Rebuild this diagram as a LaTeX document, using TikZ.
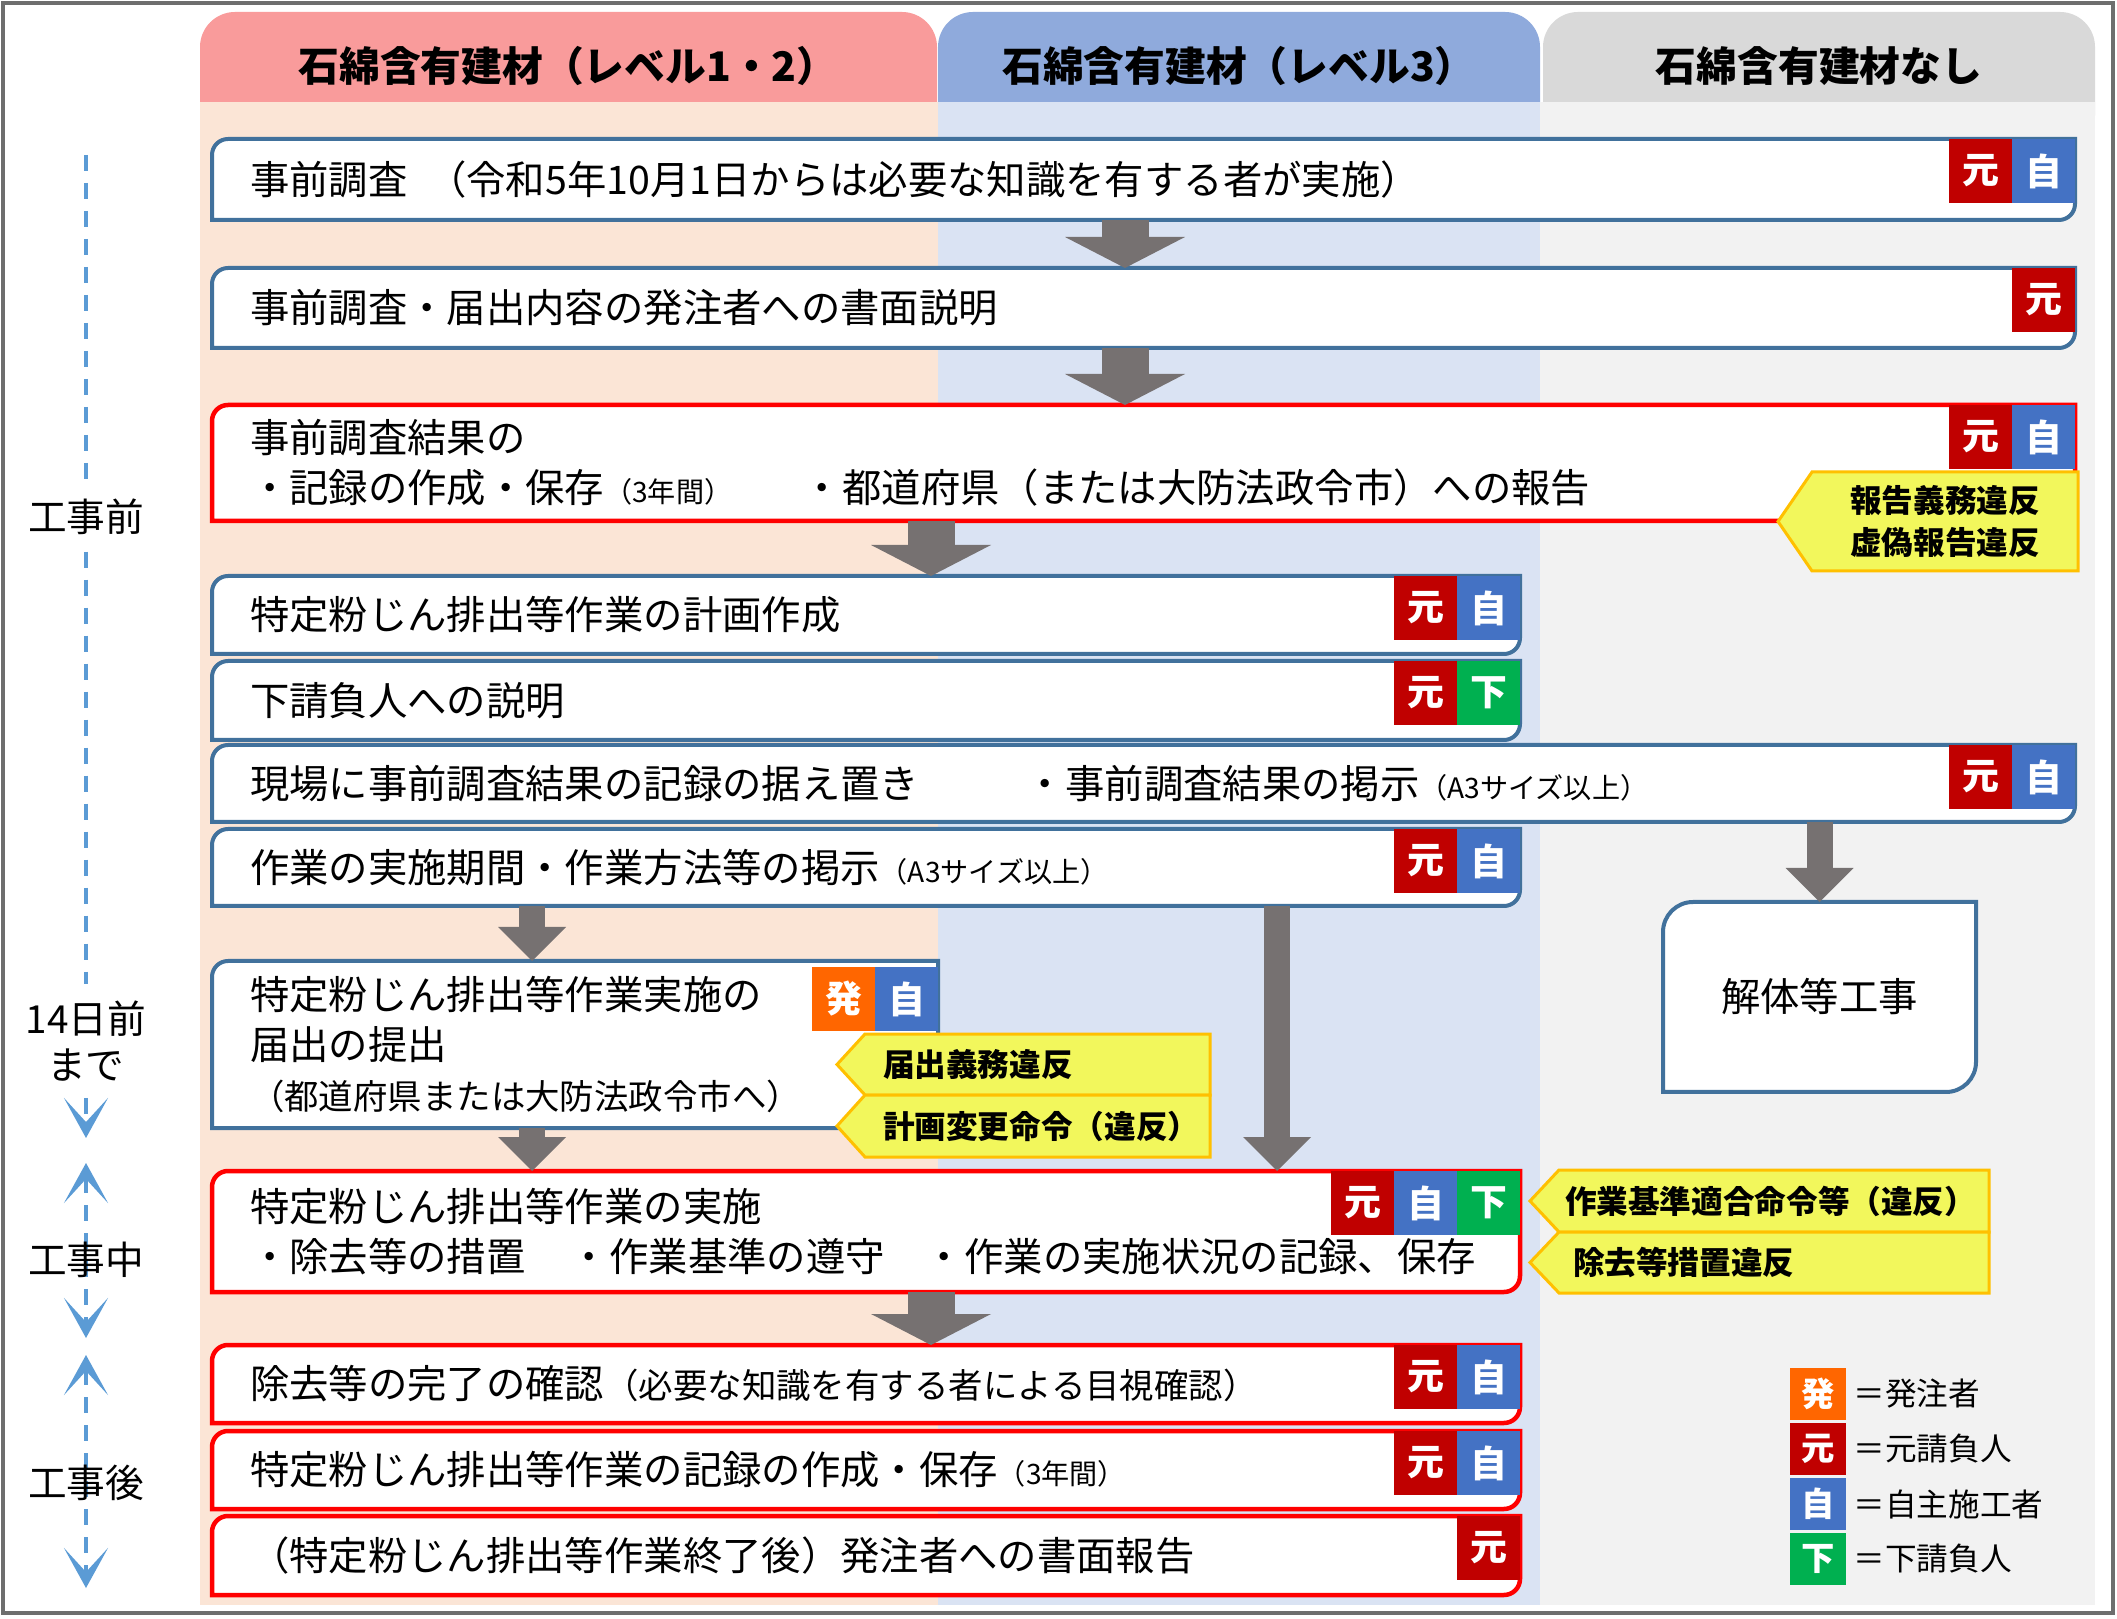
\documentclass[tikz,border=0pt]{standalone}
\usepackage{fontspec}
\setmainfont{Noto Sans CJK JP}
\usetikzlibrary{arrows.meta,positioning}

\definecolor{hdpink}{HTML}{F99B9B}
\definecolor{bgpink}{HTML}{FBE5D6}
\definecolor{hdblue}{HTML}{8FAADC}
\definecolor{bgblue}{HTML}{DAE3F3}
\definecolor{hdgray}{HTML}{D9D9D9}
\definecolor{bggray}{HTML}{F2F2F2}
\definecolor{boxblue}{HTML}{41719C}
\definecolor{boxred}{HTML}{FF0000}
\definecolor{cmoto}{HTML}{C00000}
\definecolor{cji}{HTML}{4472C4}
\definecolor{cshita}{HTML}{00B050}
\definecolor{chatsu}{HTML}{FF6600}
\definecolor{warnfill}{HTML}{F2F75C}
\definecolor{warnline}{HTML}{FFC000}
\definecolor{arrgray}{HTML}{767171}
\definecolor{tlblue}{HTML}{5B9BD5}
\definecolor{framegray}{HTML}{6E6E6E}

\pgfdeclarelayer{back}
\pgfdeclarelayer{mid}
\pgfsetlayers{back,mid,main}

\newcommand\bodyfont{\fontsize{11.2}{14.2}\selectfont}
\newcommand\midfont{\fontsize{9.8}{12}\selectfont}
\newcommand\subfont{\fontsize{8}{10}\selectfont}
\newcommand\headfont{\fontsize{11.6}{14}\selectfont\bfseries}
\newcommand\tagfont{\fontsize{10.5}{12}\selectfont\bfseries}
\newcommand\warnfont{\fontsize{9}{11.7}\selectfont\bfseries}
\newcommand\tlfont{\fontsize{11}{13}\selectfont}

% box with rounded top-left and bottom-right corners
\newcommand\rdbox[3][1.6mm]{%
  \draw[#3] (#2.south west) -- ([yshift=-#1]#2.north west)
    arc[start angle=180, end angle=90, radius=#1] -- (#2.north east)
    -- ([yshift=#1]#2.south east)
    arc[start angle=0, end angle=-90, radius=#1] -- cycle;}

% warning tag pointing left
\newcommand\warnflag[2]{%
  \draw[warn] (#1.north east) -- (#1.north west) -- ([xshift=-#2]#1.west)
    -- (#1.south west) -- (#1.south east) -- cycle;}

\begin{document}
\begin{tikzpicture}[x=0.1mm, y=0.1mm,
  box/.style={anchor=north west, inner xsep=3.8mm, inner ysep=0pt, outer sep=0pt, align=left, font=\bodyfont},
  widebox/.style={box, text width=178.7mm},
  midbox/.style={box, text width=123.2mm},
  shortbox/.style={box, text width=65mm},
  blueline/.style={fill=white, draw=boxblue, line width=0.4mm},
  redline/.style={fill=white, draw=boxred, line width=0.45mm},
  tag/.style={minimum width=6.3mm, minimum height=6.4mm, inner sep=0pt, outer sep=0pt, text=white, font=\tagfont},
  moto/.style={tag, fill=cmoto},
  ji/.style={tag, fill=cji},
  shita/.style={tag, fill=cshita},
  hatsu/.style={tag, fill=chatsu},
  legtag/.style={minimum width=5.6mm, minimum height=5.2mm, font=\fontsize{9.5}{11}\selectfont\bfseries},
  legtext/.style={inner sep=0pt, font=\fontsize{9}{11}\selectfont},
  headtext/.style={font=\headfont},
  warn/.style={fill=warnfill, draw=warnline, line width=0.3mm, line join=miter},
  warntext/.style={anchor=north west, outer sep=0pt, inner ysep=0pt, font=\warnfont},
  bigarrow/.style={draw=arrgray, line width=4.7mm, -{Triangle[length=3.1mm, width=12mm, line width=0pt]}},
  thinarrow/.style={draw=arrgray, line width=2.6mm, -{Triangle[length=3.4mm, width=6.8mm, line width=0pt]}},
  tline/.style={draw=tlblue, line width=0.4mm, dash pattern=on 1.6mm off 1.2mm},
  tltext/.style={font=\tlfont, inner xsep=0pt, inner ysep=1.6mm}]
\useasboundingbox (0,0) rectangle (2117,-1619);

% columns
\begin{pgfonlayer}{back}
\fill[hdpink, rounded corners=3.5mm] (200,-12) rectangle (937,-150);
\fill[hdblue, rounded corners=3.5mm] (938,-12) rectangle (1540,-150);
\fill[hdgray, rounded corners=3.5mm] (1543,-12) rectangle (2095,-150);
\fill[bgpink] (200,-102) rectangle (938,-1605);
\fill[bgblue] (938,-102) rectangle (1540,-1605);
\fill[bggray] (1540,-102) rectangle (2095,-1605);
\end{pgfonlayer}
\node[headtext] (hA) at (568,-66) {石綿含有建材（レベル1・2）};
\node[headtext] (hB) at (1239,-66) {石綿含有建材（レベル3）};
\node[headtext] (hC) at (1819,-66) {石綿含有建材なし};

% steps
\node[widebox, minimum height=8.1mm] (b1) at (212,-139) {事前調査\enspace（令和5年10月1日からは必要な知識を有する者が実施）};
\node[widebox, minimum height=8mm] (b2) at (212,-268) {事前調査・届出内容の発注者への書面説明};
\node[widebox, minimum height=11.6mm] (b3) at (212,-405) {事前調査結果の\\\makebox[55.3mm][l]{・記録の作成・保存{\subfont（3年間）}}・都道府県（または大防法政令市）への報告};
\node[midbox, minimum height=7.8mm] (b4) at (212,-576) {特定粉じん排出等作業の計画作成};
\node[midbox, minimum height=7.9mm] (b5) at (212,-661) {下請負人への説明};
\node[widebox, minimum height=7.7mm] (b6) at (212,-745) {\makebox[77.6mm][l]{現場に事前調査結果の記録の据え置き}・事前調査結果の掲示{\subfont（A3サイズ以上）}};
\node[midbox, minimum height=7.7mm] (b7) at (212,-829) {作業の実施期間・作業方法等の掲示{\subfont（A3サイズ以上）}};
\node[shortbox, minimum height=16.7mm] (b8) at (212,-961) {特定粉じん排出等作業実施の\\届出の提出\\{\midfont（都道府県または大防法政令市へ）}};
\node[box, align=center, inner xsep=0pt, minimum width=31.3mm, minimum height=19mm] (kai) at (1663,-902) {解体等工事};
\node[midbox, minimum height=12.1mm] (b9) at (212,-1171) {特定粉じん排出等作業の実施\\\makebox[32mm][l]{・除去等の措置}\makebox[35.5mm][l]{・作業基準の遵守}・作業の実施状況の記録、保存};
\node[midbox, minimum height=7.8mm] (b10) at (212,-1345) {除去等の完了の確認{\midfont（必要な知識を有する者による目視確認）}};
\node[midbox, minimum height=7.8mm] (b11) at (212,-1431) {特定粉じん排出等作業の記録の作成・保存{\subfont（3年間）}};
\node[midbox, minimum height=7.9mm] (b12) at (212,-1516) {（特定粉じん排出等作業終了後）発注者への書面報告};

% who is responsible
\node[ji, anchor=north east] (b1j) at (b1.north east) {自};
\node[moto, left=0pt of b1j] (b1m) {元};
\node[moto, anchor=north east] (b2m) at (b2.north east) {元};
\node[ji, anchor=north east] (b3j) at (b3.north east) {自};
\node[moto, left=0pt of b3j] (b3m) {元};
\node[ji, anchor=north east] (b4j) at (b4.north east) {自};
\node[moto, left=0pt of b4j] (b4m) {元};
\node[shita, anchor=north east] (b5s) at (b5.north east) {下};
\node[moto, left=0pt of b5s] (b5m) {元};
\node[ji, anchor=north east] (b6j) at (b6.north east) {自};
\node[moto, left=0pt of b6j] (b6m) {元};
\node[ji, anchor=north east] (b7j) at (b7.north east) {自};
\node[moto, left=0pt of b7j] (b7m) {元};
\node[ji, anchor=north east] (b8j) at ([yshift=-0.6mm]b8.north east) {自};
\node[hatsu, left=0pt of b8j] (b8h) {発};
\node[shita, anchor=north east] (b9s) at (b9.north east) {下};
\node[ji, left=0pt of b9s] (b9j) {自};
\node[moto, left=0pt of b9j] (b9m) {元};
\node[ji, anchor=north east] (b10j) at (b10.north east) {自};
\node[moto, left=0pt of b10j] (b10m) {元};
\node[ji, anchor=north east] (b11j) at (b11.north east) {自};
\node[moto, left=0pt of b11j] (b11m) {元};
\node[moto, anchor=north east] (b12m) at (b12.north east) {元};

% violations
\node[warntext, align=center, inner xsep=0pt, minimum width=26.6mm, minimum height=9.9mm] (w1) at (1812,-472) {報告義務違反\\虚偽報告違反};
\node[warntext, align=left, inner xsep=1.8mm, text width=30.9mm, minimum height=6.1mm] (w2) at (865,-1034) {届出義務違反};
\node[warntext, align=left, inner xsep=1.8mm, text width=30.9mm, minimum height=6.2mm] (w3) at (865,-1095) {計画変更命令（違反）};
\node[warntext, align=left, inner xsep=0.6mm, text width=41.8mm, minimum height=6.2mm] (w4) at (1559,-1170) {作業基準適合命令等（違反）};
\node[warntext, align=left, inner xsep=1.4mm, text width=40.2mm, minimum height=6.1mm] (w5) at (1559,-1232) {除去等措置違反};

\begin{pgfonlayer}{mid}
\rdbox{b1}{blueline}
\rdbox{b2}{blueline}
\rdbox{b3}{redline}
\rdbox{b4}{blueline}
\rdbox{b5}{blueline}
\rdbox{b6}{blueline}
\rdbox{b7}{blueline}
\rdbox{b8}{blueline}
\rdbox[3mm]{kai}{blueline}
\rdbox{b9}{redline}
\rdbox{b10}{redline}
\rdbox{b11}{redline}
\rdbox{b12}{redline}
\warnflag{w1}{3.4mm}
\warnflag{w2}{2.8mm}
\warnflag{w3}{2.8mm}
\warnflag{w4}{2.9mm}
\warnflag{w5}{2.9mm}
\end{pgfonlayer}

% flow
\coordinate (xa) at (532,0);
\coordinate (xb) at (931,0);
\coordinate (xc) at (1125,0);
\coordinate (xd) at (1277,0);
\draw[bigarrow] (b1.south -| xc) -- (b2.north -| xc);
\draw[bigarrow] (b2.south -| xc) -- (b3.north -| xc);
\draw[bigarrow] (b3.south -| xb) -- (b4.north -| xb);
\draw[thinarrow] (b6.south -| kai.north) -- (kai.north);
\draw[thinarrow] (b7.south -| xa) -- (b8.north -| xa);
\draw[thinarrow] (b7.south -| xd) -- (b9.north -| xd);
\draw[thinarrow] (b8.south -| xa) -- (b9.north -| xa);
\draw[bigarrow] (b9.south -| xb) -- (b10.north -| xb);

% legend
\node[hatsu, legtag, anchor=north west] (lg1) at (1790,-1368) {発};
\node[moto, legtag, below=0.3mm of lg1] (lg2) {元};
\node[ji, legtag, below=0.3mm of lg2] (lg3) {自};
\node[shita, legtag, below=0.3mm of lg3] (lg4) {下};
\node[legtext, right=0.7mm of lg1] (lt1) {＝発注者};
\node[legtext, right=0.7mm of lg2] (lt2) {＝元請負人};
\node[legtext, right=0.7mm of lg3] (lt3) {＝自主施工者};
\node[legtext, right=0.7mm of lg4] (lt4) {＝下請負人};

% time line
\coordinate (tl0) at (86,-155);
\node[tltext] (pre) at (86,-517) {工事前};
\node[tltext, align=center] (d14) at (86,-1041) {14日前\\まで};
\coordinate (tl1) at (86,-1138);
\draw[tline, -{Stealth[length=4mm, width=4.4mm, inset=2.4mm]}] (tl0) -- (pre) -- (d14) -- (tl1);
\coordinate (m1) at (86,-1163);
\coordinate (m2) at (86,-1338);
\draw[tline, {Stealth[length=4mm, width=4.4mm, inset=2.4mm]}-{Stealth[length=4mm, width=4.4mm, inset=2.4mm]}] (m1) -- (m2);
\node[tltext] (dur) at (86,-1260) {工事中};
\coordinate (p1) at (86,-1355);
\coordinate (p2) at (86,-1588);
\draw[tline, {Stealth[length=4mm, width=4.4mm, inset=2.4mm]}-{Stealth[length=4mm, width=4.4mm, inset=2.4mm]}] (p1) -- (p2);
\node[tltext] (post) at (86,-1483) {工事後};

\draw[framegray, line width=0.35mm] (3,-3) rectangle (2113,-1613);
\end{tikzpicture}
\end{document}
